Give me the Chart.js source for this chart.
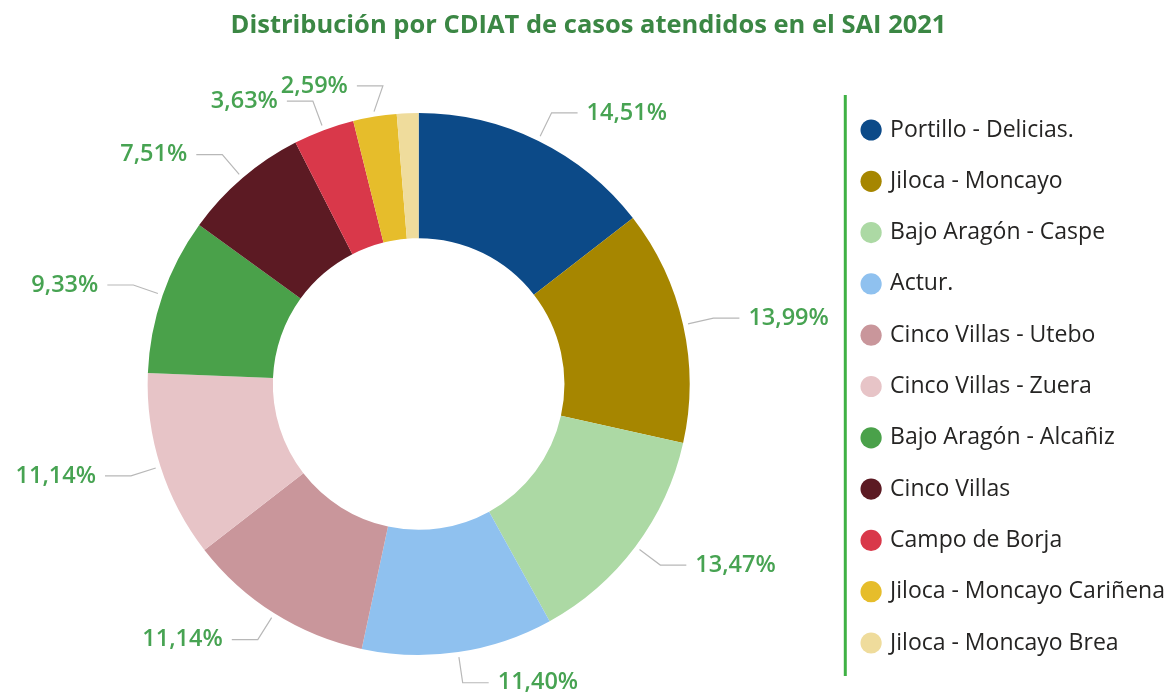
<!DOCTYPE html>
<html><head><meta charset="utf-8">
<script src="https://cdn.jsdelivr.net/npm/chart.js@4.4.0/dist/chart.umd.min.js"></script>
<style>html,body{margin:0;padding:0;background:#fff}#wrap{width:1175px;height:700px}</style>
</head><body><div id="wrap"><canvas id="c" width="1175" height="700"></canvas></div>
<script>
const titleText = 'Distribución por CDIAT de casos atendidos en el SAI 2021';
const categories = [
  'Portillo - Delicias.',
  'Jiloca - Moncayo',
  'Bajo Aragón - Caspe',
  'Actur.',
  'Cinco Villas - Utebo',
  'Cinco Villas - Zuera',
  'Bajo Aragón - Alcañiz',
  'Cinco Villas',
  'Campo de Borja',
  'Jiloca - Moncayo Cariñena',
  'Jiloca - Moncayo Brea'
];
const values = [14.51, 13.99, 13.47, 11.40, 11.14, 11.14, 9.33, 7.51, 3.63, 2.59, 1.29];
const colors = ['#0c4a88', '#a68600', '#acd9a4', '#8fc1ef', '#c9969b', '#e7c4c7', '#4aa14a', '#5c1a23', '#d9384a', '#e6bd2b', '#efdc9c'];

const FONT = '"Open Sans", "Noto Sans", sans-serif';

const leaderLabels = {
  id: 'leaderLabels',
  afterDatasetsDraw(chart) {
    const ctx = chart.ctx;
    const meta = chart.getDatasetMeta(0);
    ctx.save();
    ctx.font = '600 23.5px ' + FONT;
    const H = 24;
    let prevLeft = null;
    meta.data.forEach((arc, i) => {
      const v = values[i];
      if (v < 2) return;
      const txt = v.toFixed(2).replace('.', ',') + '%';
      const tw = ctx.measureText(txt).width;
      const p = arc.getProps(['x', 'y', 'startAngle', 'endAngle', 'outerRadius'], true);
      const mid = (p.startAngle + p.endAngle) / 2;
      const c = Math.cos(mid), s = Math.sin(mid);
      const r0 = p.outerRadius + 5, r1 = p.outerRadius + 31;
      const x0 = p.x + c * r0, y0 = p.y + s * r0;
      let x1 = p.x + c * r1;
      const y1 = p.y + s * r1;
      const dir = c >= 0 ? 1 : -1;
      let x2 = x1 + dir * 26;
      if (dir < 0) {
        let tl = x2 - 9 - tw, tr = x2 - 9;
        if (prevLeft && Math.abs(prevLeft.y - y1) < H && tl < prevLeft.r + 3) {
          tl = prevLeft.r + 3; tr = tl + tw; x2 = tr + 9; x1 = x2 + 26;
        }
        prevLeft = { l: tl, r: tr, y: y1 };
      }
      ctx.strokeStyle = '#b8b8b8';
      ctx.lineWidth = 1.2;
      ctx.beginPath();
      ctx.moveTo(x0, y0);
      ctx.lineTo(x1, y1);
      ctx.lineTo(x2, y1);
      ctx.stroke();
      ctx.fillStyle = '#47a352';
      ctx.textBaseline = 'middle';
      ctx.textAlign = dir > 0 ? 'left' : 'right';
      ctx.fillText(txt, x2 + dir * 9, y1);
    });
    ctx.restore();
  }
};

const legendRule = {
  id: 'legendRule',
  afterDraw(chart) {
    const ctx = chart.ctx;
    const lg = chart.legend;
    ctx.save();
    ctx.strokeStyle = '#3fb144';
    ctx.lineWidth = 3;
    ctx.beginPath();
    const x = lg.left + 10;
    ctx.moveTo(x, 95);
    ctx.lineTo(x, 676);
    ctx.stroke();
    ctx.restore();
  }
};

new Chart(document.getElementById('c'), {
  type: 'doughnut',
  data: {
    labels: categories,
    datasets: [{
      data: values,
      backgroundColor: colors,
      borderWidth: 0,
      radius: 271,
      cutout: 170
    }]
  },
  options: {
    responsive: false,
    animation: false,
    layout: { padding: { left: 2, right: 0, top: 0, bottom: 0 } },
    plugins: {
      title: {
        display: true,
        text: titleText,
        color: '#3b8744',
        font: { family: FONT, size: 25.5, weight: 'bold' },
        padding: { top: 10, bottom: 27.4 }
      },
      legend: {
        position: 'right',
        align: 'start',
        title: { display: true, text: ' ', font: { size: 1 }, padding: { top: 89, bottom: 0 } },
        labels: {
          usePointStyle: true,
          pointStyle: 'circle',
          boxWidth: 15,
          boxHeight: 15,
          padding: 28.3,
          color: '#252423',
          font: { family: FONT, size: 23 }
        }
      },
      tooltip: { enabled: false }
    }
  },
  plugins: [leaderLabels, legendRule]
});
</script>
</body></html>
